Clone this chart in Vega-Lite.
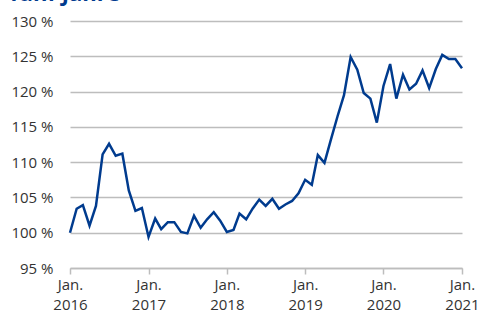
{
  "$schema": "https://vega.github.io/schema/vega-lite/v6.json",
  "width": 392,
  "height": 247,
  "autosize": {"type": "none"},
  "padding": {"left": 70, "top": 21, "right": 16, "bottom": 48},
  "background": "white",
  "title": {
    "text": "fünf Jahre",
    "anchor": "start",
    "frame": "group",
    "dx": -60,
    "dy": 17,
    "offset": 8,
    "baseline": "alphabetic",
    "fontSize": 22,
    "fontWeight": "bold",
    "font": "Open Sans",
    "color": "#003b8e"
  },
  "config": {"view": {"stroke": null}, "font": "Open Sans"},
  "data": {
    "values": [
      {"date": "2016-01-01", "v": 100.0},
      {"date": "2016-02-01", "v": 103.4},
      {"date": "2016-03-01", "v": 103.9},
      {"date": "2016-04-01", "v": 101.0},
      {"date": "2016-05-01", "v": 103.8},
      {"date": "2016-06-01", "v": 111.1},
      {"date": "2016-07-01", "v": 112.6},
      {"date": "2016-08-01", "v": 110.9},
      {"date": "2016-09-01", "v": 111.2},
      {"date": "2016-10-01", "v": 106.0},
      {"date": "2016-11-01", "v": 103.1},
      {"date": "2016-12-01", "v": 103.5},
      {"date": "2017-01-01", "v": 99.4},
      {"date": "2017-02-01", "v": 102.0},
      {"date": "2017-03-01", "v": 100.5},
      {"date": "2017-04-01", "v": 101.5},
      {"date": "2017-05-01", "v": 101.5},
      {"date": "2017-06-01", "v": 100.1},
      {"date": "2017-07-01", "v": 99.9},
      {"date": "2017-08-01", "v": 102.4},
      {"date": "2017-09-01", "v": 100.7},
      {"date": "2017-10-01", "v": 101.9},
      {"date": "2017-11-01", "v": 102.9},
      {"date": "2017-12-01", "v": 101.7},
      {"date": "2018-01-01", "v": 100.1},
      {"date": "2018-02-01", "v": 100.4},
      {"date": "2018-03-01", "v": 102.7},
      {"date": "2018-04-01", "v": 101.9},
      {"date": "2018-05-01", "v": 103.4},
      {"date": "2018-06-01", "v": 104.7},
      {"date": "2018-07-01", "v": 103.8},
      {"date": "2018-08-01", "v": 104.8},
      {"date": "2018-09-01", "v": 103.4},
      {"date": "2018-10-01", "v": 104.0},
      {"date": "2018-11-01", "v": 104.5},
      {"date": "2018-12-01", "v": 105.6},
      {"date": "2019-01-01", "v": 107.5},
      {"date": "2019-02-01", "v": 106.8},
      {"date": "2019-03-01", "v": 111.0},
      {"date": "2019-04-01", "v": 109.9},
      {"date": "2019-05-01", "v": 113.2},
      {"date": "2019-06-01", "v": 116.5},
      {"date": "2019-07-01", "v": 119.5},
      {"date": "2019-08-01", "v": 124.9},
      {"date": "2019-09-01", "v": 123.1},
      {"date": "2019-10-01", "v": 119.8},
      {"date": "2019-11-01", "v": 119.0},
      {"date": "2019-12-01", "v": 115.6},
      {"date": "2020-01-01", "v": 120.8},
      {"date": "2020-02-01", "v": 123.9},
      {"date": "2020-03-01", "v": 119.0},
      {"date": "2020-04-01", "v": 122.4},
      {"date": "2020-05-01", "v": 120.3},
      {"date": "2020-06-01", "v": 121.1},
      {"date": "2020-07-01", "v": 123.0},
      {"date": "2020-08-01", "v": 120.5},
      {"date": "2020-09-01", "v": 123.2},
      {"date": "2020-10-01", "v": 125.2},
      {"date": "2020-11-01", "v": 124.6},
      {"date": "2020-12-01", "v": 124.6},
      {"date": "2021-01-01", "v": 123.3}
    ]
  },
  "mark": {"type": "line", "color": "#003b8e", "strokeWidth": 2.5, "strokeJoin": "miter"},
  "encoding": {
    "x": {
      "field": "date",
      "type": "temporal",
      "scale": {"domain": [{"year": 2016, "month": 1, "date": 1}, {"year": 2021, "month": 1, "date": 1}]},
      "axis": {
        "title": null,
        "values": [
          {"year": 2016, "month": 1, "date": 1},
          {"year": 2017, "month": 1, "date": 1},
          {"year": 2018, "month": 1, "date": 1},
          {"year": 2019, "month": 1, "date": 1},
          {"year": 2020, "month": 1, "date": 1},
          {"year": 2021, "month": 1, "date": 1}
        ],
        "labelExpr": "['Jan.', timeFormat(datum.value, '%Y')]",
        "labelLineHeight": 20,
        "labelFontSize": 15,
        "labelColor": "#333333",
        "labelPadding": 3,
        "labelOverlap": false,
        "labelBound": false,
        "labelFlush": false,
        "domainColor": "#bdbdbd",
        "domainWidth": 1.5,
        "tickColor": "#bdbdbd",
        "tickWidth": 1.5,
        "tickSize": 6,
        "grid": false
      }
    },
    "y": {
      "field": "v",
      "type": "quantitative",
      "scale": {"domain": [95, 130], "nice": false, "zero": false},
      "axis": {
        "title": null,
        "values": [95, 100, 105, 110, 115, 120, 125, 130],
        "labelExpr": "datum.value + ' %'",
        "labelFontSize": 15,
        "labelColor": "#333333",
        "labelPadding": 17,
        "domain": false,
        "ticks": false,
        "grid": true,
        "gridColor": "#bdbdbd",
        "gridWidth": 1.5
      }
    }
  }
}
